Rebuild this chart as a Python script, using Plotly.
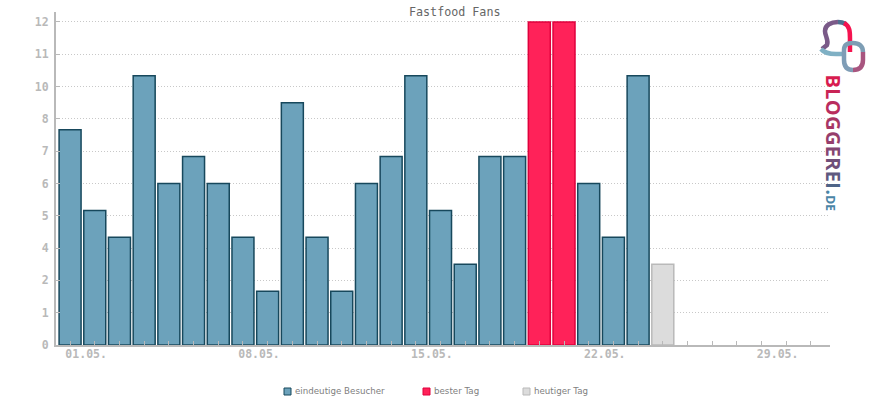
import plotly.graph_objects as go

# Tage im Diagramm (Index 0 = 30.04.)
days = list(range(31))
besucher = [8, 5, 4, 10, 6, 7, 6, 4, 2, 9, 4, 2, 6, 7, 10, 5, 3, 7, 7, None, None, 6, 4, 10]
bester_tag = [None] * 19 + [12, 12]
heutiger_tag = [None] * 24 + [3]

y_ticks = [0, 1.2, 2.4, 3.6, 4.8, 6, 7.2, 8.4, 9.6, 10.8, 12]
y_labels = ["0", "1", "2", "4", "5", "6", "7", "8", "10", "11", "12"]
x_tick_days = [1, 8, 15, 22, 29]
x_labels = ["01.05.", "08.05.", "15.05.", "22.05.", "29.05."]
legend_names = ["eindeutige Besucher", "bester Tag", "heutiger Tag"]

BLAU, BLAU_RAND = "#6ca2bb", "#17485c"
ROT, ROT_RAND = "#ff2259", "#e0003c"
HELL, GRAU = "#dcdcdc", "#b9b9b9"
MONO = "DejaVu Sans Mono"
BAR_W = 0.89
x_range = [-0.57, 30.77]

# Pixel -> paper, fuer Logo und Legende
L, R, T, B = 56, 830, 12, 345
def fx(x):
    return (x - L) / (R - L)
def fy(y):
    return 1 - (y - T) / (B - T)
def px(x, y):
    return f"{fx(x):.4f} {fy(y):.4f}"

def pfad(*teile):
    out = ""
    for t in teile:
        if isinstance(t, str):
            out += t + " "
        else:
            out += px(*t) + " "
    return out

fig = go.Figure()
fig.add_trace(go.Bar(x=days, y=besucher, name=legend_names[0], width=BAR_W,
                     marker=dict(color=BLAU, line=dict(color=BLAU_RAND, width=1.5))))
fig.add_trace(go.Bar(x=days, y=bester_tag, name=legend_names[1], width=BAR_W,
                     marker=dict(color=ROT, line=dict(color=ROT_RAND, width=1.5))))
fig.add_trace(go.Bar(x=days, y=heutiger_tag, name=legend_names[2], width=BAR_W,
                     marker=dict(color=HELL, line=dict(color=GRAU, width=1.5))))
# nur damit die zweite x-Achse (Beschriftung) gezeichnet wird
fig.add_trace(go.Scatter(x=[0], y=[0], xaxis="x2", mode="markers", opacity=0,
                         showlegend=False, hoverinfo="skip"))

# Logo
logo = [
    (pfad("M", (822, 49), "L", (827, 45), "C", (829, 40), (825, 36), (825, 31), "C", (825, 25), (831, 22), (838, 22)),
     "#7a5a88"),
    (pfad("M", (838, 22), "C", (841, 22), (844, 23), (846, 24)), "#4f6f90"),
    (pfad("M", (844, 23), "C", (850, 26), (850, 32), (850, 38), "L", (850, 52)), "#f5134f"),
    (pfad("M", (821, 49), "C", (825, 54), (832, 54), (836, 54), "L", (845, 54)), "#7fb0c4"),
    (pfad("M", (844, 50), "C", (844, 44), (848, 43), (853, 43), "C", (859, 43), (863, 46), (863, 52)), "#7d9db4"),
    (pfad("M", (863, 52), "L", (863, 60), "C", (863, 67), (859, 70), (853, 70)), "#a8557f"),
    (pfad("M", (853, 70), "C", (847, 70), (844, 67), (844, 60), "L", (844, 50)), "#7f9db6"),
]
shapes = [dict(type="path", xref="paper", yref="paper", path=p,
               line=dict(color=c, width=4.5)) for p, c in logo]

buchstaben = ["#d81c50", "#c92455", "#b92d5e", "#a83665", "#963e6c", "#844672", "#704f79", "#5f5a80", "#4f6487"]
logo_text = "".join(f'<span style="color:{c}">{b}</span>' for b, c in zip("BLOGGEREI", buchstaben))
logo_text += '<span style="color:#4a85a6">.</span><span style="color:#4a85a6;font-size:12px">DE</span>'
logo_text = f'<span style="letter-spacing:0.3px">{logo_text}</span>'

annotations = [
    dict(text="Fastfood Fans", xref="paper", yref="paper", x=fx(454), y=fy(12),
         yanchor="middle", showarrow=False, font=dict(family=MONO, size=11.7, color="#666666")),
    dict(text=logo_text, xref="paper", yref="paper", x=fx(849), y=fy(143),
         textangle=90, showarrow=False, font=dict(family="Open Sans", size=20, weight=700)),
]

# Legende von Hand, die eingebaute hat zu grosse Symbole
for name, x0, fill, rand in zip(legend_names, [284, 423, 523], [BLAU, ROT, HELL], [BLAU_RAND, ROT_RAND, GRAU]):
    shapes.append(dict(type="rect", xref="paper", yref="paper", x0=fx(x0), x1=fx(x0 + 7),
                       y0=fy(395), y1=fy(388), fillcolor=fill, line=dict(color=rand, width=1)))
    annotations.append(dict(text=name, xref="paper", yref="paper", x=fx(x0 + 11), y=fy(391.5), xanchor="left",
                            yanchor="middle", showarrow=False, xshift=-2,
                            font=dict(family="DejaVu Sans", size=8.7, color="#808080")))

fig.update_layout(
    width=870, height=400,
    margin=dict(l=L, r=870 - R, t=T, b=400 - B),
    paper_bgcolor="white", plot_bgcolor="white",
    barmode="overlay", shapes=shapes, annotations=annotations, showlegend=False,
    font=dict(family=MONO, color=GRAU, size=12),
    xaxis=dict(range=x_range, tickvals=days, showticklabels=False, ticks="inside", ticklen=4,
               tickcolor=GRAU, showgrid=False, zeroline=False, showline=True,
               linecolor=GRAU, linewidth=2, layer="above traces"),
    xaxis2=dict(range=x_range, overlaying="x", anchor="y", side="bottom", showgrid=False,
                zeroline=False, showline=False, ticks="",
                tickvals=[d - 0.35 for d in x_tick_days], ticktext=x_labels,
                tickfont=dict(family=MONO, size=11.5, color=GRAU, weight="bold")),
    yaxis=dict(range=[0, 12.37], tickvals=y_ticks, ticktext=y_labels, ticks="inside", ticklen=4,
               tickcolor=GRAU, gridcolor="#c8c8c8", griddash="1px,2px", gridwidth=1, zeroline=False,
               showline=True, linecolor=GRAU, linewidth=2, ticklabelstandoff=3,
               tickfont=dict(family=MONO, size=11.5, color=GRAU, weight="bold")),
)
fig.write_html("out.html", config=dict(displayModeBar=False),
               post_script="document.body.style.margin='0';")
